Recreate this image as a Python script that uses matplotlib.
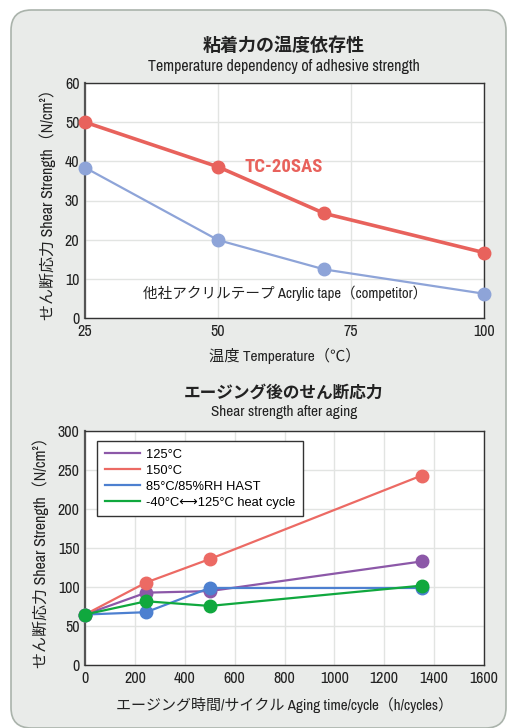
import matplotlib
matplotlib.use("Agg")
import matplotlib.pyplot as plt
from matplotlib.patches import FancyBboxPatch
from matplotlib.lines import Line2D

# ---- data ----
temps = [25, 50, 70, 100]
tc20sas = [50, 38.6, 26.7, 16.7]
competitor = [38.4, 19.9, 12.4, 6.2]

aging_x = [0, 245, 500, 1350]
s125 = [65, 93, 95, 133]
s150 = [65, 106, 136, 243]
hast = [65, 68, 99, 99]
heat = [65, 82, 76, 102]
legend_labels = ["125°C", "150°C", "85°C/85%RH HAST", "-40°C\u27f7125°C heat cycle"]

top_xticks = [25, 50, 75, 100]
top_yticks = [0, 10, 20, 30, 40, 50, 60]
bot_xticks = [0, 200, 400, 600, 800, 1000, 1200, 1400, 1600]
bot_yticks = [0, 50, 100, 150, 200, 250, 300]

NARROW = ["Archivo Narrow", "Liberation Sans Narrow", "Noto Sans CJK JP", "DejaVu Sans"]
NARROW_B = ["Roboto Condensed", "Archivo Narrow", "Liberation Sans Narrow", "DejaVu Sans"]
JP = ["Noto Sans CJK JP", "DejaVu Sans"]
plt.rcParams['font.family'] = NARROW

fig = plt.figure(figsize=(5.09, 7.28), dpi=100)
fig.patch.set_facecolor("white")
panel = FancyBboxPatch((11/509, 0.0), (509-11-3)/509, (728-10)/728,
                       boxstyle="round,pad=0,rounding_size=0.04",
                       transform=fig.transFigure, facecolor="#e9ebe9",
                       edgecolor="#aab3ab", linewidth=1.2, zorder=-10,
                       mutation_aspect=509/728)
fig.patches.append(panel)

RED = "#e8625c"
BLUE_T = "#8ea4d8"
PURPLE = "#8c58a8"
RED_B = "#ec6a64"
BLUE_B = "#4d80d0"
GREEN = "#10a83e"
TXT = "#222222"
YLABEL = "せん断応力 Shear Strength（N/cm²）"


def style(ax):
    ax.set_facecolor("white")
    ax.grid(True, color="#e2e4e2", linewidth=1.0)
    ax.set_axisbelow(True)
    for s in ["top", "right", "bottom"]:
        ax.spines[s].set_color("#333333")
        ax.spines[s].set_linewidth(1.0)
    ax.spines["left"].set_color("#555555")
    ax.spines["left"].set_linewidth(1.6)
    ax.tick_params(length=0, labelsize=11.5, colors=TXT, pad=4)


# ---- top chart ----
ax1 = fig.add_axes([85/509, 1-318/728, 399/509, 235/728])
style(ax1)
ax1.plot(temps, tc20sas, color=RED, lw=2.6, marker="o", ms=9, clip_on=False, zorder=3)
ax1.plot(temps, competitor, color=BLUE_T, lw=1.6, marker="o", ms=9, clip_on=False, zorder=3)
ax1.set_xlim(25, 100)
ax1.set_ylim(0, 60)
ax1.set_xticks(top_xticks)
ax1.set_yticks(top_yticks)
ax1.text(62.4, 38.5, "TC-20SAS", color=RED, fontsize=13.5, fontweight="bold",
         family=NARROW_B, ha="center", va="center")
ax1.text(62.6, 6.3, "他社アクリルテープ Acrylic tape（competitor）", color=TXT,
         fontsize=10.5, ha="center", va="center")
ax1.set_xlabel("温度 Temperature（℃）", fontsize=11, color=TXT, labelpad=7)
ax1.set_ylabel(YLABEL, fontsize=11.5, color=TXT, labelpad=6)

fig.text(284/509, 1-45/728, "粘着力の温度依存性", family=JP, fontsize=13,
         fontweight="bold", ha="center", va="center", color=TXT)
fig.text(284/509, 1-66/728, "Temperature dependency of adhesive strength",
         fontsize=11.5, ha="center", va="center", color=TXT)

# ---- bottom chart ----
ax2 = fig.add_axes([85/509, 1-665.3/728, 399/509, 234.3/728])
style(ax2)
series = [(s125, PURPLE), (s150, RED_B), (hast, BLUE_B), (heat, GREEN)]
for ys, c in series:
    ax2.plot(aging_x, ys, color=c, lw=1.6, marker="o", ms=9, clip_on=False, zorder=3)
ax2.set_xlim(0, 1600)
ax2.set_ylim(0, 300)
ax2.set_xticks(bot_xticks)
ax2.set_yticks(bot_yticks)
ax2.set_xlabel("エージング時間/サイクル Aging time/cycle（h/cycles）", fontsize=10.8,
               color=TXT, labelpad=8)
ax2.set_ylabel(YLABEL, fontsize=11.5, color=TXT, labelpad=6)

handles = [Line2D([0], [0], color=c, lw=1.6) for _, c in series]
leg = ax2.legend(handles, legend_labels, loc="upper left",
                 bbox_to_anchor=(0.03, 0.957), borderaxespad=0, frameon=True,
                 fancybox=False, edgecolor="#333333", framealpha=1,
                 handlelength=2.7, handletextpad=0.5, labelspacing=0.3,
                 borderpad=0.6,
                 prop={"family": ["Liberation Sans", "DejaVu Sans"], "size": 9.3})
leg.get_frame().set_linewidth(1.0)

fig.text(284/509, 1-393/728, "エージング後のせん断応力", family=JP, fontsize=12,
         fontweight="bold", ha="center", va="center", color=TXT)
fig.text(284/509, 1-412/728, "Shear strength after aging",
         fontsize=11, ha="center", va="center", color=TXT)

fig.savefig("out.png", dpi=100, facecolor="white")
